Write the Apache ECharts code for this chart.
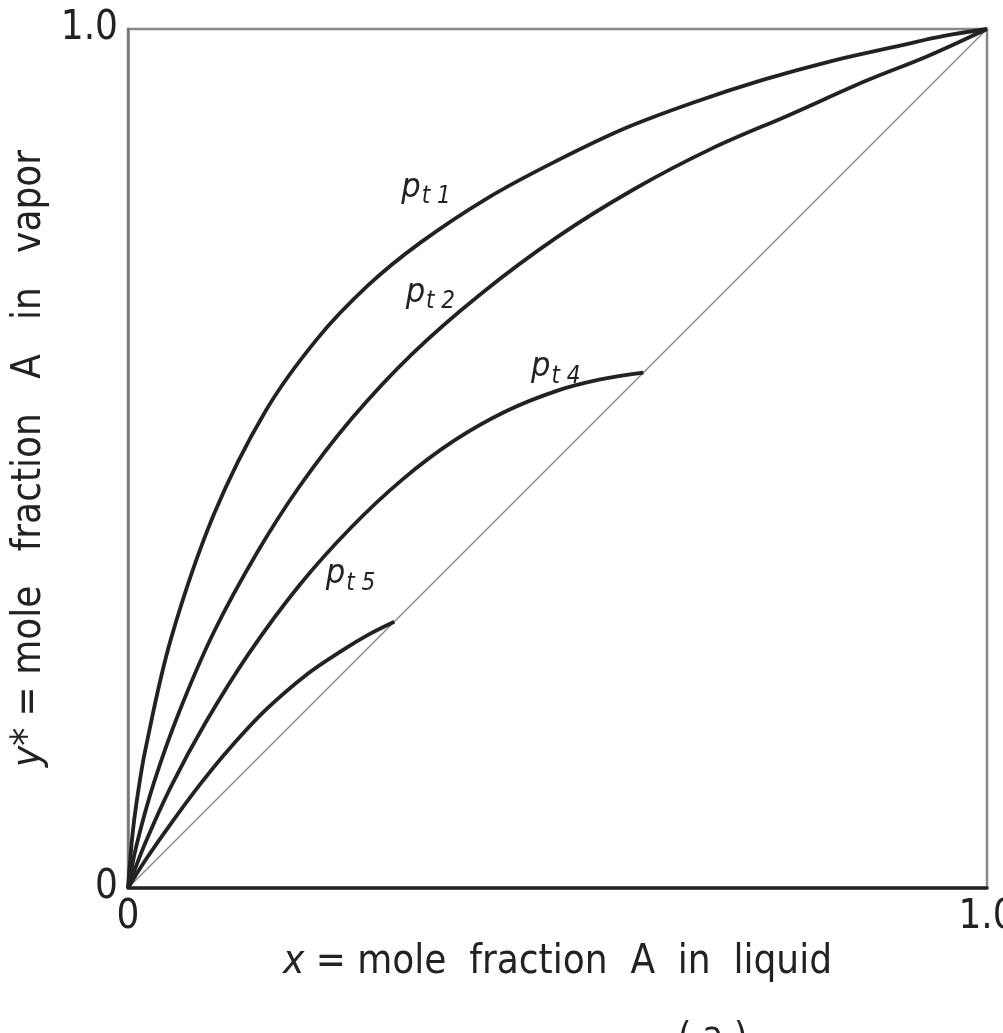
<!DOCTYPE html>
<html>
<head>
<meta charset="utf-8">
<script src="https://cdn.jsdelivr.net/npm/echarts@6/dist/echarts.min.js"></script>
<style>
  html, body { margin: 0; padding: 0; background: #fff; }
  #main { width: 1003px; height: 1033px; }
</style>
</head>
<body>
<div id="main"></div>
<script>
// equilibrium curves, [x, y*]
var pt1 = [[0,0],[0.005,0.06],[0.01,0.1],[0.02,0.16],[0.05,0.29],[0.1,0.435],[0.16,0.555],[0.22,0.639],[0.28,0.702],[0.34,0.751],[0.42,0.804],[0.5,0.847],[0.58,0.885],[0.66,0.915],[0.74,0.941],[0.82,0.963],[0.9,0.981],[0.95,0.992],[1,1]];
var pt2 = [[0,0],[0.01,0.05],[0.03,0.122],[0.06,0.206],[0.1,0.298],[0.15,0.39],[0.2,0.468],[0.26,0.546],[0.33,0.621],[0.41,0.691],[0.5,0.758],[0.59,0.814],[0.68,0.861],[0.77,0.9],[0.86,0.94],[0.93,0.968],[1,1]];
var pt4 = [[0,0],[0.02,0.052],[0.05,0.118],[0.09,0.192],[0.14,0.272],[0.2,0.353],[0.26,0.42],[0.32,0.476],[0.38,0.521],[0.44,0.555],[0.5,0.579],[0.55,0.592],[0.6,0.6]];
var pt5 = [[0,0],[0.02,0.032],[0.05,0.075],[0.085,0.122],[0.117,0.161],[0.16,0.207],[0.21,0.25],[0.25,0.277],[0.28,0.295],[0.31,0.31]];
var diagonal = [[0,0],[1,1]];

var curveNames = ['1', '2', '4', '5'];
var labelX = [0.347, 0.352, 0.498, 0.259];
var labelY = [0.815, 0.693, 0.606, 0.365];

var xTicks = ['0', '1.0'];
var yTicks = ['0', '1.0'];

var font = '"Liberation Sans Narrow", "DejaVu Sans Condensed", sans-serif';
var ink = '#222';

function curve(data, idx) {
  return {
    type: 'line',
    data: data,
    smooth: 0.35,
    symbol: 'none',
    lineStyle: { color: ink, width: 3.8 },
    z: 3,
    markPoint: {
      symbol: 'circle',
      symbolSize: 0,
      data: [{ coord: [labelX[idx], labelY[idx]] }],
      label: {
        show: true,
        formatter: '{p|p}{s|t ' + curveNames[idx] + '}',
        rich: {
          p: { fontFamily: font, fontStyle: 'italic', fontSize: 34, color: ink },
          s: { fontFamily: font, fontStyle: 'italic', fontSize: 24, color: ink, padding: [18, 0, 0, 1] }
        }
      }
    }
  };
}

var chart = echarts.init(document.getElementById('main'));
chart.setOption({
  backgroundColor: '#fff',
  animation: false,
  grid: {
    left: 128, right: 16, top: 29, bottom: 145,
    outerBoundsMode: 'none', containLabel: false,
    show: true, borderColor: '#888', borderWidth: 2.5
  },
  xAxis: {
    type: 'value', min: 0, max: 1, interval: 1,
    axisLine: { show: true, lineStyle: { color: ink, width: 3.5 } },
    axisTick: { show: false },
    splitLine: { show: false },
    axisLabel: {
      fontFamily: font, fontSize: 40, color: ink, margin: 10,
      formatter: function (v) { return v === 0 ? xTicks[0] : xTicks[1]; }
    },
    name: '{i|x} = mole  fraction  A  in  liquid',
    nameLocation: 'middle',
    nameGap: 42,
    nameTextStyle: {
      fontFamily: font, fontSize: 40, color: ink,
      rich: { i: { fontFamily: font, fontStyle: 'italic', fontSize: 40, color: ink } }
    }
  },
  yAxis: {
    type: 'value', min: 0, max: 1, interval: 1,
    axisLine: { show: true, lineStyle: { color: '#777', width: 2.5 } },
    axisTick: { show: false },
    splitLine: { show: false },
    axisLabel: {
      fontFamily: font, fontSize: 40, color: ink, margin: 10,
      formatter: function (v) { return v === 0 ? yTicks[0] : yTicks[1]; }
    },
    name: '{i|y*} = mole   fraction   A   in   vapor',
    nameLocation: 'middle',
    nameGap: 64,
    nameTextStyle: {
      fontFamily: font, fontSize: 40, color: ink,
      rich: { i: { fontFamily: font, fontStyle: 'italic', fontSize: 40, color: ink } }
    }
  },
  graphic: [{
    type: 'text', left: 678, top: 1019,
    style: { text: '( a )', font: '38px ' + font, fill: ink }
  }],
  series: [
    {
      type: 'line', data: diagonal, symbol: 'none', silent: true,
      lineStyle: { color: '#888', width: 1.5 }, z: 2
    },
    curve(pt1, 0),
    curve(pt2, 1),
    curve(pt4, 2),
    curve(pt5, 3)
  ]
});
</script>
</body>
</html>
